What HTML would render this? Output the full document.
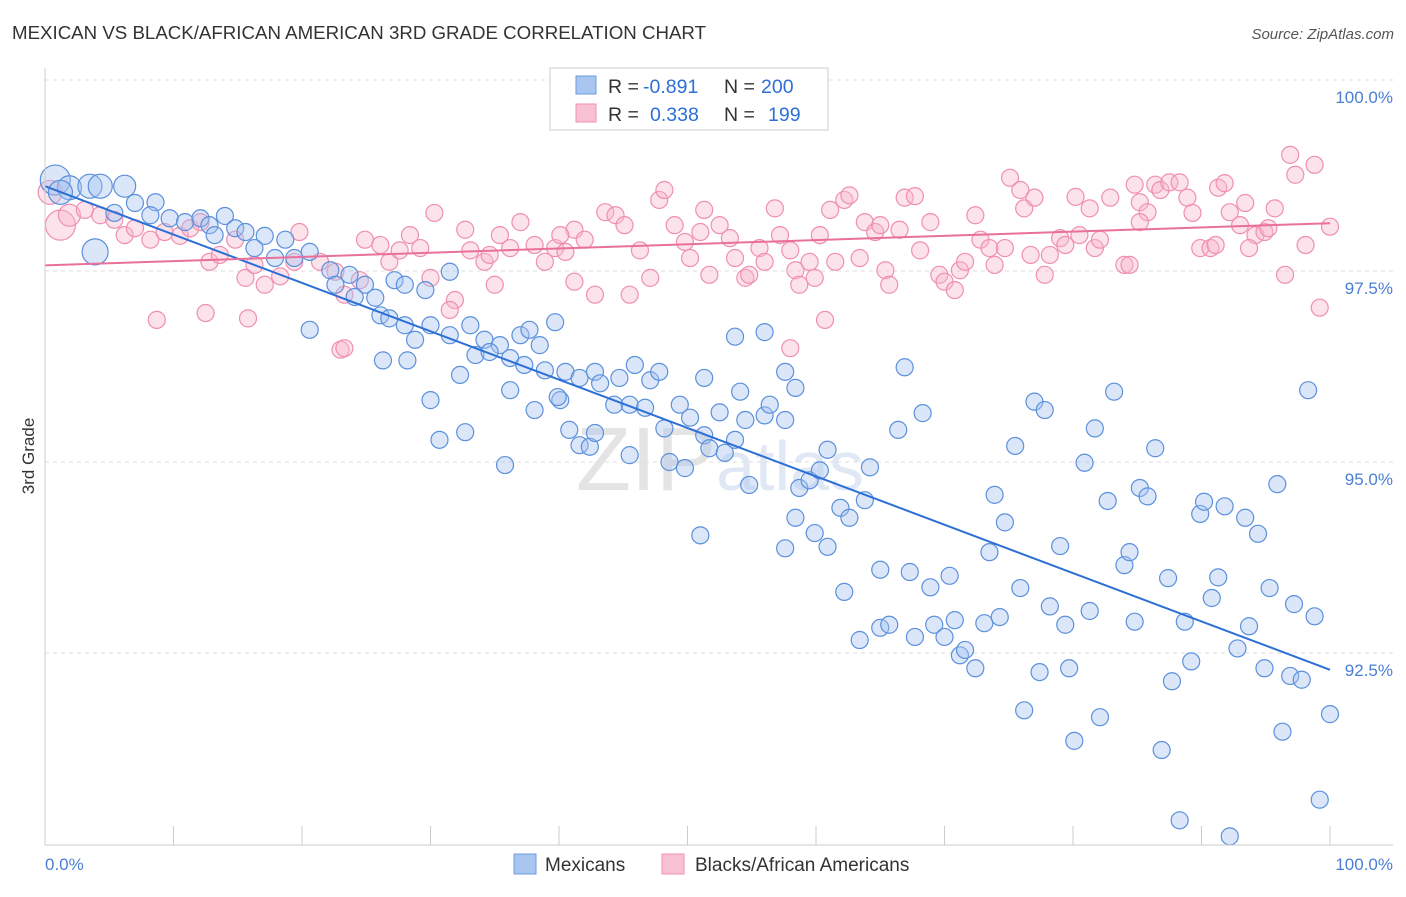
<!DOCTYPE html>
<html><head><meta charset="utf-8"><style>
body{margin:0;background:#fff;font-family:"Liberation Sans",sans-serif;}
svg text{font-family:"Liberation Sans",sans-serif;}
</style></head><body>
<svg id="chart" width="1406" height="892">
<text x="12" y="39" font-size="18.7" fill="#333">MEXICAN VS BLACK/AFRICAN AMERICAN 3RD GRADE CORRELATION CHART</text>
<text x="1394" y="39" font-size="15" fill="#555" font-style="italic" text-anchor="end">Source: ZipAtlas.com</text>
<text x="34" y="456" font-size="17" fill="#333" text-anchor="middle" transform="rotate(-90 34 456)">3rd Grade</text>
<text x="720" y="490" font-size="90" fill="#e4e4e4" text-anchor="middle" font-family="Liberation Serif">ZIP<tspan fill="#dfe8f4" font-size="70" font-family="Liberation Sans">atlas</tspan></text>
<g id="grid"></g><g id="pts"></g><g id="lines"></g>
<line x1="45" y1="68" x2="45" y2="845" stroke="#ccc"/>
<line x1="45" y1="845" x2="1393" y2="845" stroke="#ccc"/>
<text x="45" y="870" font-size="17" fill="#4a7fd4">0.0%</text>
<text x="1393" y="870" font-size="17" fill="#4a7fd4" text-anchor="end">100.0%</text>
<g>
<rect x="550" y="68" width="278" height="62" fill="#fff" stroke="#ccc"/>
<rect x="576" y="76" width="20" height="18" fill="#a9c6f1" stroke="#6b9ce0"/>
<rect x="576" y="104" width="20" height="18" fill="#f9c2d4" stroke="#f08fb0"/>
<text x="608" y="93" font-size="19.5" fill="#333">R =</text>
<text x="643" y="93" font-size="19.5" fill="#2c6fd6">-0.891</text>
<text x="724" y="93" font-size="19.5" fill="#333">N =</text>
<text x="761" y="93" font-size="19.5" fill="#2c6fd6">200</text>
<text x="608" y="121" font-size="19.5" fill="#333">R =</text>
<text x="650" y="121" font-size="19.5" fill="#2c6fd6">0.338</text>
<text x="724" y="121" font-size="19.5" fill="#333">N =</text>
<text x="768" y="121" font-size="19.5" fill="#2c6fd6">199</text>
</g>
<g>
<rect x="514" y="854" width="22" height="20" fill="#a9c6f1" stroke="#6b9ce0"/>
<text x="545" y="871" font-size="19" fill="#333">Mexicans</text>
<rect x="662" y="854" width="22" height="20" fill="#f9c2d4" stroke="#f08fb0"/>
<text x="695" y="871" font-size="19" fill="#333">Blacks/African Americans</text>
</g>
</svg>
<script>
const yTicks=[100,97.5,95,92.5];
const yTickLabels=["100.0%","97.5%","95.0%","92.5%"];
const xTicks=[0,10,20,30,40,50,60,70,80,90,100];
const blueX=[0.8,1.9,3.5,4.3,6.2,1.2,3.9,7.0,8.6,5.4,8.2,9.7,10.9,12.1,12.8,14.0,14.8,15.6,17.1,18.7,13.2,16.3,17.9,19.4,20.6,22.2,23.7,24.9,25.7,27.2,28.0,29.6,31.5,20.6,22.6,24.1,26.1,26.8,28.0,30.0,28.8,31.5,33.1,34.2,35.4,37.0,37.7,39.7,38.5,32.3,33.5,34.6,36.2,37.3,38.9,40.5,26.3,28.2,30.0,30.7,32.7,35.8,36.2,38.1,40.1,40.8,41.6,42.4,41.6,42.8,43.2,44.7,45.9,47.1,47.8,44.3,45.5,46.7,48.2,48.6,49.8,49.4,50.2,51.3,51.3,51.7,52.5,52.9,53.7,54.1,54.5,54.8,56.0,56.4,57.6,57.6,58.4,58.7,59.5,60.3,60.9,53.7,56.0,51.0,57.6,58.4,59.9,60.9,61.9,62.6,63.8,64.2,65.0,62.2,63.4,65.0,65.7,67.7,67.3,68.9,69.2,70.0,70.4,70.8,71.2,71.6,72.4,73.1,73.9,74.3,73.5,74.7,75.5,75.9,76.2,77.4,78.2,79.0,79.4,79.7,80.1,80.9,81.3,82.1,82.7,81.7,83.2,84.0,84.4,84.8,85.2,85.8,86.4,86.9,87.4,87.7,88.3,88.7,89.2,89.9,90.2,90.8,91.3,91.8,92.2,92.8,93.4,93.7,94.4,94.9,95.3,95.9,96.3,96.9,97.2,97.8,98.3,98.8,99.2,100.0,77.0,77.8,66.9,68.3,66.4,42.8,39.9,45.5];
const blueY=[98.69,98.59,98.61,98.61,98.61,98.53,97.75,98.39,98.40,98.26,98.23,98.19,98.14,98.19,98.10,98.22,98.06,98.01,97.96,97.91,97.97,97.80,97.67,97.67,97.75,97.51,97.45,97.32,97.15,97.38,97.32,97.25,97.49,96.73,97.32,97.16,96.92,96.88,96.79,96.79,96.60,96.66,96.79,96.60,96.53,96.66,96.73,96.83,96.53,96.14,96.40,96.44,96.36,96.27,96.20,96.18,96.33,96.33,95.81,95.29,95.39,94.96,95.94,95.68,95.81,95.42,95.22,95.20,96.10,96.18,96.03,96.10,96.27,96.07,96.18,95.75,95.75,95.71,95.44,95.00,94.92,95.75,95.58,96.10,95.35,95.18,95.65,95.12,95.29,95.92,95.55,94.70,95.61,95.75,96.18,95.55,95.97,94.66,94.76,94.89,95.16,96.64,96.70,94.04,93.87,94.27,94.07,93.89,94.40,94.27,94.50,94.93,93.59,93.30,92.67,92.83,92.87,92.71,93.56,93.36,92.87,92.71,93.51,92.93,92.47,92.54,92.30,92.89,94.57,92.97,93.82,94.21,95.21,93.35,91.75,92.25,93.11,93.90,92.87,92.30,91.35,94.99,93.05,91.66,94.49,95.44,95.92,93.65,93.82,92.91,94.66,94.55,95.18,91.23,93.48,92.13,90.31,92.91,92.39,94.32,94.48,93.22,93.49,94.42,90.10,92.56,94.27,92.85,94.06,92.30,93.35,94.71,91.47,92.20,93.14,92.15,95.94,92.98,90.58,91.70,95.79,95.68,96.24,95.64,95.42,95.38,95.85,95.09];
const pinkX=[0.4,1.2,1.9,3.1,4.3,5.4,6.2,7.0,8.2,9.3,10.5,11.3,12.1,12.8,13.6,14.8,15.6,16.3,17.1,18.3,19.4,19.8,21.4,22.6,23.3,24.5,24.9,26.1,26.8,27.6,28.4,29.2,30.3,30.0,31.9,32.7,33.1,34.2,35.0,35.4,36.2,37.0,38.1,38.9,39.7,40.5,41.2,42.0,42.8,43.6,44.4,45.1,45.5,46.3,47.1,47.8,48.2,49.0,49.8,50.2,51.0,51.3,51.7,52.5,53.3,53.7,54.5,54.8,55.6,56.0,56.8,57.2,58.0,58.4,58.7,59.5,59.9,60.3,61.1,61.5,62.2,62.6,63.4,63.8,64.6,65.0,65.4,65.7,66.5,66.9,67.7,68.1,68.9,69.6,70.0,70.8,71.2,71.6,72.4,72.8,73.5,73.9,74.7,75.1,75.9,76.2,77.0,76.7,77.8,78.2,79.0,79.4,80.2,80.5,81.7,81.3,82.1,82.9,84.0,84.4,85.2,85.8,84.8,86.4,86.8,87.5,88.3,88.9,89.3,89.9,90.7,91.3,91.8,92.2,93.0,93.4,94.2,94.9,95.7,96.5,96.9,97.3,98.1,98.8,99.2,100.0,8.7,12.5,15.8,23.0,23.3,58.0,60.7,91.1,95.2,34.6,40.1,31.5,41.2,85.2,93.7];
const pinkY=[98.53,98.10,98.23,98.30,98.23,98.17,97.97,98.06,97.91,98.01,97.96,98.06,98.14,97.62,97.71,97.91,97.41,97.58,97.32,97.43,97.62,98.01,97.62,97.49,97.19,97.38,97.91,97.84,97.62,97.77,97.97,97.80,98.26,97.41,97.12,98.04,97.77,97.62,97.32,97.97,97.80,98.14,97.84,97.62,97.80,97.75,98.04,97.91,97.19,98.27,98.23,98.10,97.19,97.77,97.41,98.43,98.56,98.10,97.88,97.67,98.01,98.30,97.45,98.10,97.93,97.67,97.41,97.45,97.80,97.62,98.32,97.97,97.77,97.51,97.32,97.62,97.41,97.97,98.30,97.62,98.43,98.49,97.67,98.14,98.01,98.10,97.51,97.32,98.04,98.46,98.48,97.77,98.14,97.45,97.36,97.25,97.51,97.62,98.23,97.91,97.80,97.58,97.80,98.72,98.56,98.32,98.46,97.71,97.45,97.71,97.93,97.84,98.47,97.97,97.80,98.32,97.91,98.46,97.58,97.58,98.40,98.27,98.63,98.63,98.56,98.66,98.66,98.46,98.26,97.80,97.80,98.59,98.65,98.27,98.10,98.39,97.97,98.01,98.32,97.45,99.02,98.76,97.84,98.89,97.02,98.08,96.86,96.95,96.88,96.47,96.49,96.49,96.86,97.84,98.06,97.71,97.97,96.99,97.36,98.14,97.80];
const blueBig={0:15,1:12,2:12,3:12,4:11,5:12,6:13};
const pinkBig={0:12,1:15,2:11};
const NS="http://www.w3.org/2000/svg";
const X=v=>45+v*12.85, Y=v=>80+(100-v)*76.4;
function mk(t,a,parent){const e=document.createElementNS(NS,t);for(const k in a)e.setAttribute(k,a[k]);parent.appendChild(e);return e;}
const grid=document.getElementById('grid');
yTicks.forEach((t,i)=>{
 const l=mk('line',{x1:45,x2:1393,y1:Y(t),y2:Y(t),stroke:'#ddd','stroke-dasharray':'4,4'},grid);
 
 
 const tx=mk('text',{x:1393,y:Y(t)+23,'font-size':17,fill:'#4a7fd4','text-anchor':'end'},grid);
 tx.textContent=yTickLabels[i];
 
 
});
xTicks.forEach(t=>{
 const l=mk('line',{x1:X(t),x2:X(t),y1:826,y2:845,stroke:'#ccc'},grid);
 
 
});
const pts=document.getElementById('pts');
function drawSeries(xs,ys,big,fill,stroke,name){
 xs.forEach((x,i)=>{
  const c=mk('circle',{cx:X(x),cy:Y(ys[i]),r:big[i]||8.5,fill:fill,stroke:stroke,'stroke-width':1.2},pts);
  
  
 });
}
drawSeries(pinkX,pinkY,pinkBig,'rgba(248,182,204,0.4)','#f08fb0','black-point');
drawSeries(blueX,blueY,blueBig,'rgba(164,196,240,0.4)','#5b90dc','mexican-point');
function reg(xs,ys){const n=xs.length;let mx=0,my=0;for(let i=0;i<n;i++){mx+=xs[i];my+=ys[i];}mx/=n;my/=n;let sxy=0,sxx=0;for(let i=0;i<n;i++){sxy+=(xs[i]-mx)*(ys[i]-my);sxx+=(xs[i]-mx)**2;}const b=sxy/sxx;return [my-b*mx,b];}
const lines=document.getElementById('lines');
[[blueX,blueY,'#2c6fd6','mexican-trendline'],[pinkX,pinkY,'#e8709a','black-trendline']].forEach(([xs,ys,c,n])=>{
 const [a,b]=reg(xs,ys);
 const l=mk('line',{x1:X(0),y1:Y(a),x2:X(100),y2:Y(a+b*100),stroke:c,'stroke-width':2},lines);
 
 
});
</script>
</body></html>
